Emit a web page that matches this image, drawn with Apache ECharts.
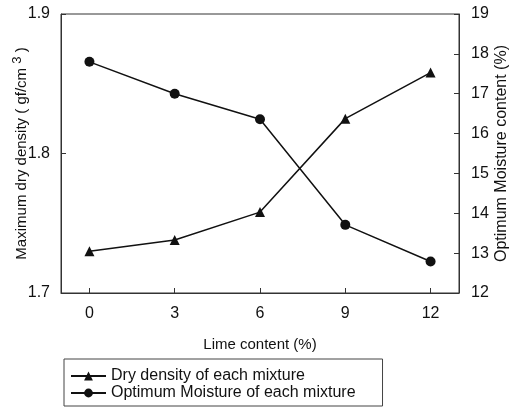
<!DOCTYPE html>
<html>
<head>
<meta charset="utf-8">
<script src="https://cdn.jsdelivr.net/npm/echarts@6/dist/echarts.min.js"></script>
<style>
  html, body { margin: 0; padding: 0; background: #fff; }
  #chart { width: 510px; height: 410px; }
</style>
</head>
<body>
<div id="chart"></div>
<script>
// lime content (%)
var limeContent = [0, 3, 6, 9, 12];
// maximum dry density (gf/cm3), left axis
var dryDensity = [1.730, 1.738, 1.758, 1.825, 1.858];
// optimum moisture content (%), right axis
var optMoisture = [17.8, 17.0, 16.36, 13.71, 12.79];
var xTicks = [0, 3, 6, 9, 12];

var font = 'Liberation Sans, Arial, sans-serif';
var ink = '#111';

const toPairs = (xs, ys) => xs.map((x, i) => [x, ys[i]]);

const getOption = () => {
  return {
    backgroundColor: '#fff',
    animation: false,
    textStyle: { fontFamily: font, color: ink },
    grid: {
      left: 61, right: 51, top: 14, bottom: 117,
      outerBoundsMode: 'none',
      containLabel: false,
      show: true, borderColor: '#333', borderWidth: 1,
    },
    legend: {
      left: 64,
      top: 359,
      orient: 'vertical',
      padding: [9, 27, 5, 6],
      itemGap: 1,
      itemWidth: 35,
      itemHeight: 11,
      borderColor: '#444',
      borderWidth: 1,
      textStyle: { fontFamily: font, fontSize: 16, lineHeight: 16, color: ink },
      data: ['Dry density of each mixture', 'Optimum Moisture of each mixture'],
    },
    xAxis: {
      type: 'value',
      min: -1,
      max: 13,
      name: 'Lime content (%)',
      nameLocation: 'middle',
      nameGap: 44,
      nameMoveOverlap: false,
      nameTextStyle: { fontFamily: font, fontSize: 15, color: ink },
      axisLine: { show: true, lineStyle: { color: '#333' } },
      axisTick: { inside: true, length: 5, customValues: xTicks, lineStyle: { color: '#333' } },
      axisLabel: { customValues: xTicks, margin: 13, fontFamily: font, fontSize: 16, color: ink },
      splitLine: { show: false },
    },
    yAxis: [
      {
        type: 'value',
        min: 1.7,
        max: 1.9,
        interval: 0.1,
        position: 'left',
        name: 'Maximum dry density ( gf/cm {sup|3} )',
        nameLocation: 'middle',
        nameRotate: 90,
        nameGap: 28,
        nameMoveOverlap: false,
        nameTextStyle: {
          fontFamily: font, fontSize: 15, color: ink,
          rich: { sup: { fontFamily: font, fontSize: 13, color: ink, padding: [0, 0, 9, 0] } },
        },
        axisLine: { show: true, onZero: false, lineStyle: { color: '#333' } },
        axisTick: { inside: true, length: 5, lineStyle: { color: '#333' } },
        axisLabel: { margin: 11, fontFamily: font, fontSize: 16, color: ink, formatter: (v) => v.toFixed(1) },
        splitLine: { show: false },
      },
      {
        type: 'value',
        min: 12,
        max: 19,
        interval: 1,
        position: 'right',
        name: 'Optimum Moisture content (%)',
        nameLocation: 'middle',
        nameRotate: 90,
        nameGap: 35,
        nameMoveOverlap: false,
        nameTextStyle: { fontFamily: font, fontSize: 16, color: ink },
        axisLine: { show: true, onZero: false, lineStyle: { color: '#333' } },
        axisTick: { inside: true, length: 5, lineStyle: { color: '#333' } },
        axisLabel: { margin: 12, fontFamily: font, fontSize: 16, color: ink },
        splitLine: { show: false },
      },
    ],
    series: [
      {
        name: 'Dry density of each mixture',
        type: 'line',
        yAxisIndex: 0,
        symbol: 'triangle',
        symbolSize: 10,
        lineStyle: { color: ink, width: 1.5 },
        itemStyle: { color: ink },
        data: toPairs(limeContent, dryDensity),
      },
      {
        name: 'Optimum Moisture of each mixture',
        type: 'line',
        yAxisIndex: 1,
        symbol: 'circle',
        symbolSize: 10,
        lineStyle: { color: ink, width: 1.5 },
        itemStyle: { color: ink },
        data: toPairs(limeContent, optMoisture),
      },
    ],
  };
};

window.addEventListener('load', () => {
  const chart = echarts.init(document.getElementById('chart'), null, { renderer: 'canvas' });
  chart.setOption(getOption());
});
</script>
</body>
</html>
